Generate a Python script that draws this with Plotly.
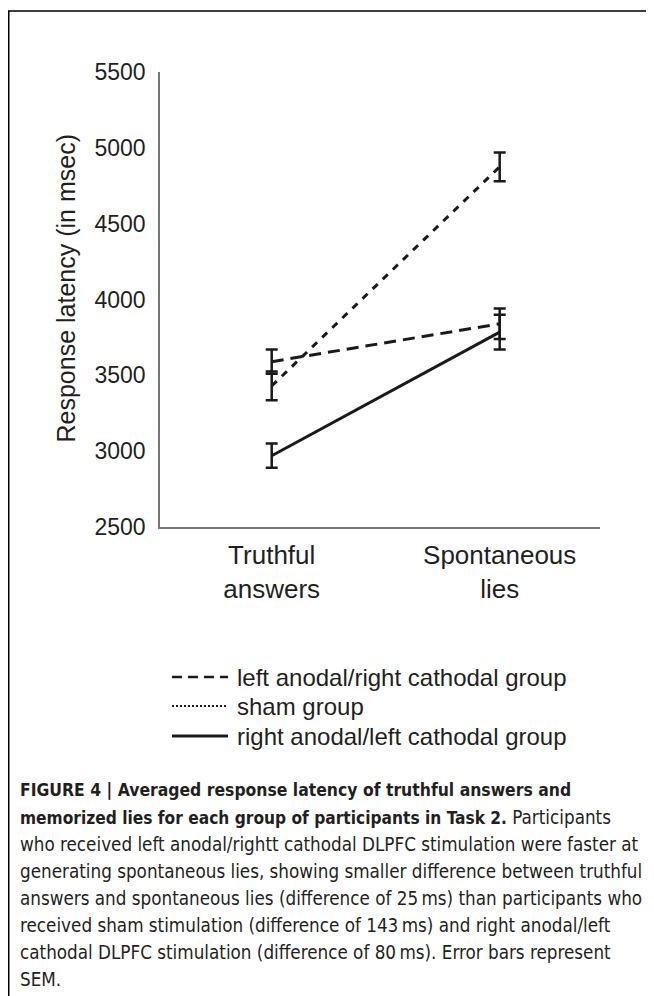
import plotly.graph_objects as go

# ---- data ----
categories = ["Truthful<br>answers", "Spontaneous<br>lies"]
x_pos = [0, 1]
groups = ["left anodal/right cathodal group", "sham group", "right anodal/left cathodal group"]
latency_left_anodal = [3590, 3840]
sem_left_anodal = [80, 100]
latency_sham = [3430, 4875]
sem_sham = [95, 95]
latency_right_anodal = [2970, 3785]
sem_right_anodal = [80, 115]
y_ticks = [2500, 3000, 3500, 4000, 4500, 5000, 5500]

caption_lines = [
    "<b><span style='font-size:17.4px'>FIGURE 4 | Averaged response latency of truthful answers and</span></b>",
    "<b><span style='font-size:17.2px'>memorized lies for each group of participants in Task 2.</span></b> Participants",
    "who received left anodal/rightt cathodal DLPFC stimulation were faster at",
    "generating spontaneous lies, showing smaller difference between truthful",
    "answers and spontaneous lies (difference of 25\u2009ms) than participants who",
    "received sham stimulation (difference of 143\u2009ms) and right anodal/left",
    "cathodal DLPFC stimulation (difference of 80\u2009ms). Error bars represent",
    "SEM.",
]

# ---- layout geometry (page pixels; the page body has an 8px margin) ----
OFF = 8
W, H = 654 - OFF, 996 - OFF
L, R, T, B = 160, 600, 72, 527
pw, ph = R - L, B - T


def px(xp):
    return (xp - L) / pw


def py(yp):
    return (B - yp) / ph


FONT = "Liberation Sans, Arial, Helvetica, sans-serif"
CAPFONT = "Liberation Sans Narrow, Arial Narrow, DejaVu Sans Condensed, sans-serif"
TXT = "#231f20"
INK = "#1a1a1a"

fig = go.Figure()
series = [
    (groups[0], latency_left_anodal, sem_left_anodal, "12px,7px", "10px,6px", 2.5),
    (groups[1], latency_sham, sem_sham, "7px,7px", "2px,2px", 2),
    (groups[2], latency_right_anodal, sem_right_anodal, "solid", "solid", 3),
]
shapes = []
annotations = []
legend_rows = [677, 706, 736]
for (name, vals, errs, dash, legdash, legw), ry in zip(series, legend_rows):
    fig.add_trace(go.Scatter(
        x=x_pos, y=vals, name=name, mode="lines", showlegend=False,
        line=dict(color=INK, width=3, dash=dash),
        error_y=dict(type="data", array=errs, visible=True, color=INK,
                     thickness=2.5, width=6),
    ))
    # legend entry
    shapes.append(dict(type="line", xref="paper", yref="paper",
                       x0=px(172), x1=px(228), y0=py(ry), y1=py(ry),
                       line=dict(color=INK, width=legw, dash=legdash)))
    annotations.append(dict(text=name, x=px(235), y=py(ry), xref="paper", yref="paper",
                            showarrow=False, xanchor="left", yanchor="middle",
                            font=dict(family=FONT, size=24, color=TXT)))

annotations.append(
    dict(text="Response latency (in msec)", x=px(65), y=(py(137) + py(440)) / 2,
         xref="paper", yref="paper", textangle=-90, showarrow=False,
         font=dict(family=FONT, size=25, color=TXT), xanchor="center", yanchor="middle"))
for i, line in enumerate(caption_lines):
    annotations.append(dict(
        text=line, x=px(17.5), y=py(790 + 27 * i), xref="paper", yref="paper",
        showarrow=False, xanchor="left", yanchor="middle", align="left",
        font=dict(family=CAPFONT, size=18.7, color=TXT),
    ))

# outer frame (extends past the right and bottom edges)
shapes.append(dict(type="rect", xref="paper", yref="paper",
                   x0=px(8.75), x1=px(700), y0=py(1040), y1=py(11),
                   line=dict(color="black", width=1.5), layer="below"))

fig.update_layout(
    width=W, height=H,
    margin=dict(l=L - OFF, r=W - (R - OFF), t=T - OFF, b=H - (B - OFF)),
    paper_bgcolor="white", plot_bgcolor="white",
    font=dict(family=FONT, color=TXT),
    showlegend=False,
    xaxis=dict(range=[-0.49, 1.44], tickvals=x_pos, ticktext=categories,
               showgrid=False, zeroline=False, showline=True, linecolor="#777",
               linewidth=1.5, ticks="outside", ticklen=4, tickcolor="rgba(0,0,0,0)",
               tickfont=dict(family=FONT, size=26, color=TXT), fixedrange=True),
    yaxis=dict(range=[2500, 5500], tickvals=y_ticks, showgrid=False, zeroline=False,
               showline=True, linecolor="#777", linewidth=1.5, ticks="outside",
               ticklen=8, tickcolor="rgba(0,0,0,0)",
               tickfont=dict(family=FONT, size=23, color=TXT), fixedrange=True),
    annotations=annotations,
    shapes=shapes,
)

fig.write_html("out.html")
